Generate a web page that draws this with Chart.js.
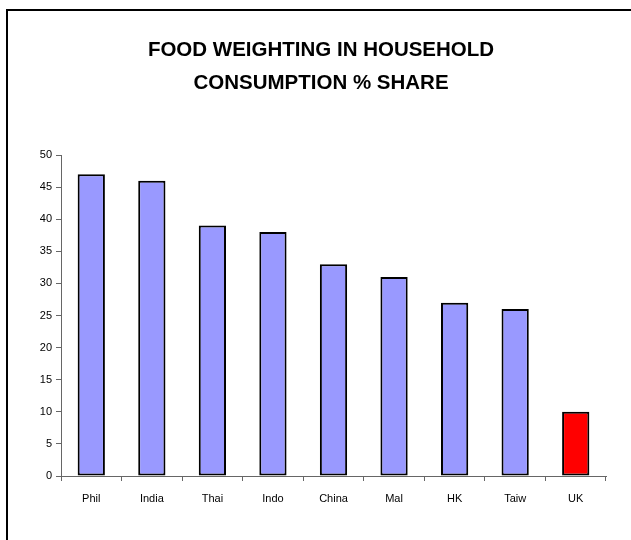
<!DOCTYPE html>
<html>
<head>
<meta charset="utf-8">
<script src="https://cdn.jsdelivr.net/npm/chart.js@4"></script>
<style>
  html, body { margin: 0; padding: 0; background: #fff; }
  #wrap { width: 631px; height: 540px; position: relative; }
</style>
</head>
<body>
<div id="wrap"><canvas id="myChart"></canvas></div>
<script>
var countries = ['Phil', 'India', 'Thai', 'Indo', 'China', 'Mal', 'HK', 'Taiw', 'UK'];
var foodShare = [47, 46, 39, 38, 33, 31, 27, 26, 10];
var barColors = ['#9999FF', '#9999FF', '#9999FF', '#9999FF', '#9999FF', '#9999FF', '#9999FF', '#9999FF', '#FF0000'];
var titleLines = ['FOOD WEIGHTING IN HOUSEHOLD', 'CONSUMPTION % SHARE'];

// white background plus the frame line on the top and left edges
var frame = {
    id: 'frame',
    beforeDraw: function (chart) {
        var c = chart.ctx;
        c.save();
        c.fillStyle = '#fff';
        c.fillRect(0, 0, chart.width, chart.height);
        c.restore();
    },
    afterDraw: function (chart) {
        var c = chart.ctx;
        c.save();
        c.fillStyle = '#000';
        c.fillRect(6, 9, chart.width - 6, 2);
        c.fillRect(6, 9, 2, chart.height - 9);
        c.restore();
    }
};

var ctx = document.getElementById('myChart');
new Chart(ctx, {
    type: 'bar',
    data: {
        labels: countries,
        datasets: [{
            data: foodShare,
            backgroundColor: barColors,
            borderColor: '#000',
            borderWidth: 2,
            borderSkipped: false,
            barPercentage: 0.45,
            categoryPercentage: 1
        }]
    },
    options: {
        responsive: true,
        maintainAspectRatio: false,
        animation: false,
        layout: { padding: { left: 36, right: 25, top: 0, bottom: 0 } },
        plugins: {
            legend: { display: false },
            tooltip: { enabled: false },
            title: {
                display: true,
                text: titleLines,
                color: '#000',
                font: { family: 'Arial, "Liberation Sans"', size: 20.5, weight: 'bold', lineHeight: '33px' },
                padding: { top: 34, bottom: 55 }
            }
        },
        scales: {
            x: {
                grid: { display: true, drawOnChartArea: false, drawTicks: true, tickLength: 5, color: '#666' },
                border: { display: true, color: '#666', width: 1 },
                ticks: { color: '#000', padding: 11, font: { family: 'Arial, "Liberation Sans"', size: 11 } },
                afterFit: function (scale) { scale.height = 64; }
            },
            y: {
                min: 0,
                max: 50,
                grid: { display: true, drawOnChartArea: false, drawTicks: true, tickLength: 5, color: '#666' },
                border: { display: true, color: '#666', width: 1 },
                ticks: { stepSize: 5, color: '#000', padding: 4, font: { family: 'Arial, "Liberation Sans"', size: 11 } },
                afterFit: function (scale) { scale.width = 25; }
            }
        }
    },
    plugins: [frame]
});
</script>
</body>
</html>
